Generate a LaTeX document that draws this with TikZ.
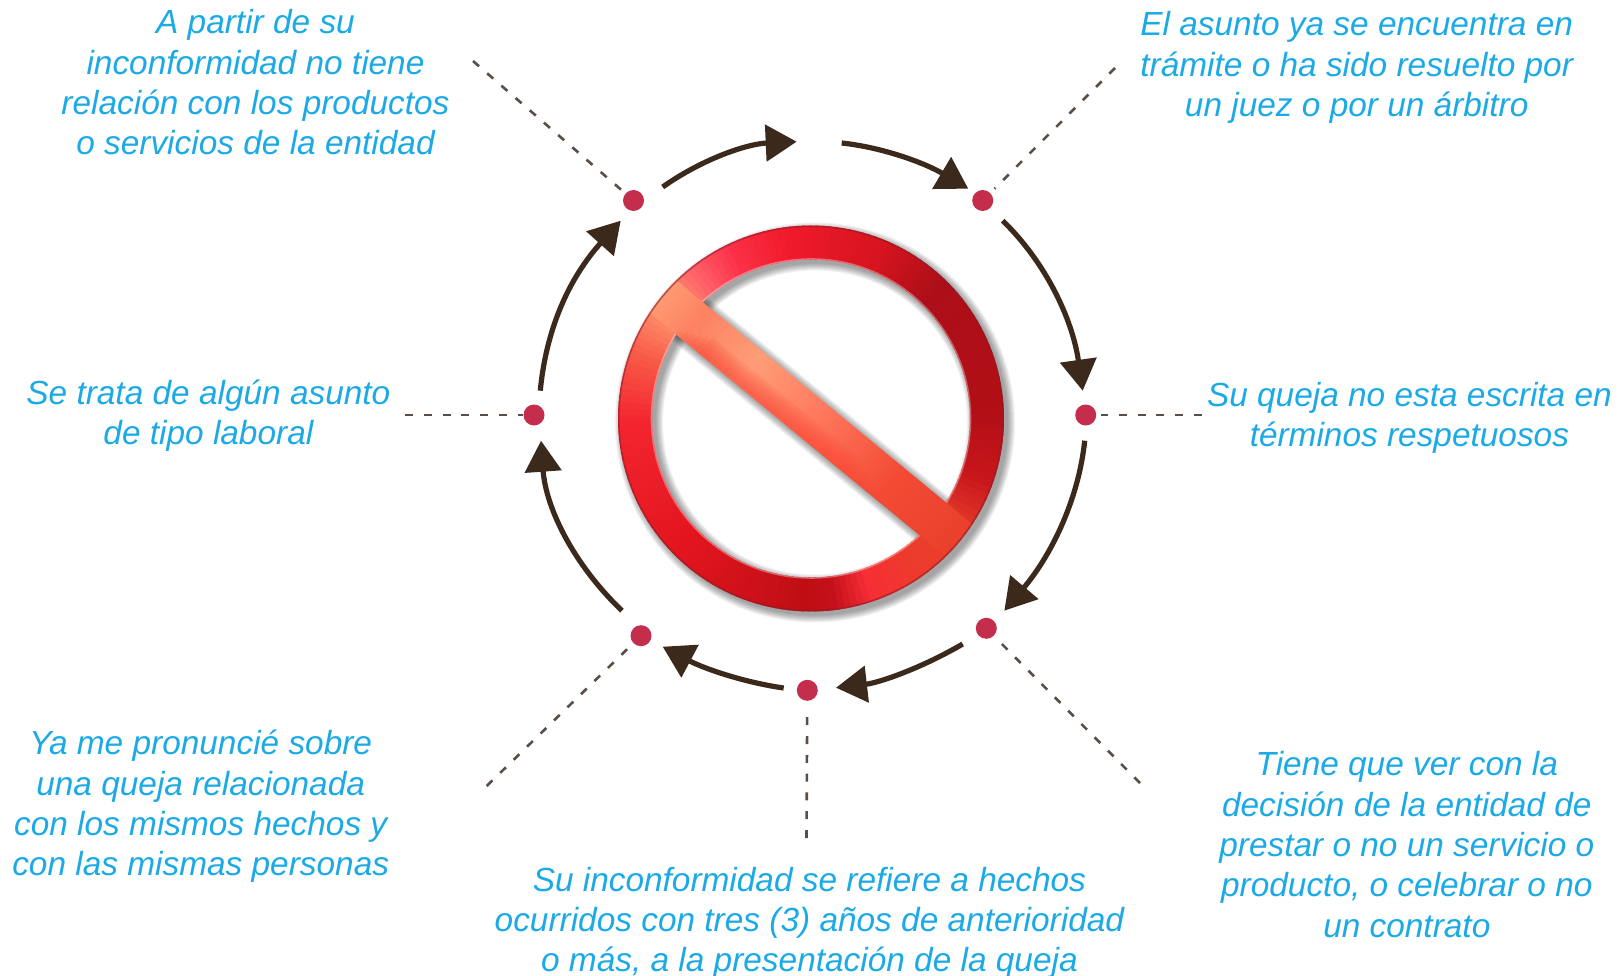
\documentclass[tikz,border=0pt]{standalone}
\usepackage{fontspec}
\setmainfont{Liberation Sans}
\usetikzlibrary{arrows.meta,calc}
\definecolor{txtblue}{HTML}{1CAAE6}
\definecolor{shaft}{HTML}{3B2A1C}
\definecolor{leader}{HTML}{5A4F48}
\definecolor{dotred}{HTML}{C42D4B}
\definecolor{ra}{HTML}{B20F16}
\definecolor{rb}{HTML}{AD0F18}
\definecolor{rc}{HTML}{D5141E}
\definecolor{rd}{HTML}{F01A2A}
\definecolor{re}{HTML}{FB3046}
\definecolor{rf}{HTML}{FF5A66}
\definecolor{rg}{HTML}{FF9A72}
\definecolor{rh}{HTML}{F85A48}
\definecolor{ri}{HTML}{F32630}
\definecolor{rj}{HTML}{E2151F}
\definecolor{rk}{HTML}{BE0E14}
\definecolor{rl}{HTML}{C4101A}
\definecolor{rm}{HTML}{F52E36}
\definecolor{rn}{HTML}{EE3A2C}
\definecolor{ro}{HTML}{E8402C}
\definecolor{rp}{HTML}{C9171B}
\definecolor{ba}{HTML}{FC8262}
\definecolor{bb}{HTML}{FF9D78}
\definecolor{bc}{HTML}{FF7A5E}
\definecolor{bd}{HTML}{F44B35}
\definecolor{bred}{HTML}{FB4636}
\definecolor{rimc}{HTML}{8F1A28}
\newcommand\ringseg[4]{\foreach \t in {#1,\the\numexpr#1+2\relax,...,\the\numexpr#2-1\relax}{%
  \pgfmathsetmacro\pp{100*(\t-#1)/(#2-#1)}%
  \fill[#4!\pp!#3] (\t:159) -- (\t:193) -- (\t+2.6:193) -- (\t+2.6:159) -- cycle;}}
\newcommand\barseg[4]{\foreach \t in {#1,\the\numexpr#1+3\relax,...,\the\numexpr#2-1\relax}{%
  \pgfmathsetmacro\pp{100*(\t-#1)/(#2-#1)}%
  \fill[#4!\pp!#3] (\t,-21) rectangle (\t+3.6,21);}}
\newcommand\arcarrow[3]{\draw[curvearrow] (#1) .. controls ($(#1)!.667!(#2)$) and ($(#3)!.667!(#2)$) .. (#3);}
\tikzset{
  note/.style={font=\itshape\fontsize{33.4}{40.3}\selectfont,text=txtblue,align=center,inner sep=0pt},
  reddot/.style={circle,fill=dotred,minimum size=21pt,inner sep=0pt,draw=none},
  curvearrow/.style={draw=shaft,line width=5.2pt,-{Triangle[length=31pt,width=36pt]}},
  dashline/.style={draw=leader,line width=2.6pt,dash pattern=on 8pt off 10.8pt}
}
\begin{document}
\begin{tikzpicture}[x=1pt,y=-1pt]
\useasboundingbox (0,0) rectangle (1622,976);
\fill[white] (0,0) rectangle (1622,976);

% sign
\begin{scope}[shift={(811,418.5)},x=1pt,y=1pt]
  \begin{scope}[shift={(4,-4)}]
    \foreach \w in {0,2,...,14}{
      \draw[black,opacity=.05,line width=34+\w] (0,0) circle[radius=176];
      \begin{scope}[rotate=-39.5]
        \fill[black,opacity=.05] (-165,-21-\w/2) rectangle (165,21+\w/2);
      \end{scope}
    }
  \end{scope}
  \ringseg{0}{45}{ra}{rb}
  \ringseg{45}{66}{rb}{rc}
  \ringseg{66}{96}{rc}{rd}
  \ringseg{96}{114}{rd}{re}
  \ringseg{114}{126}{re}{rf}
  \ringseg{126}{141}{rf}{rg}
  \ringseg{141}{159}{rg}{rh}
  \ringseg{159}{180}{rh}{ri}
  \ringseg{180}{225}{ri}{rj}
  \ringseg{225}{267}{rj}{rk}
  \ringseg{267}{276}{rk}{rl}
  \ringseg{276}{288}{rl}{rm}
  \ringseg{288}{303}{rm}{rn}
  \ringseg{303}{321}{rn}{ro}
  \ringseg{321}{339}{ro}{rp}
  \ringseg{339}{360}{rp}{ra}
  \draw[white,opacity=.35,line width=1.4pt] (0,0) circle[radius=159.6];
  \begin{scope}
    \clip (0,0) circle[radius=192];
    \begin{scope}[rotate=-39.5]
      \barseg{-192}{-150}{rg}{ba}
      \barseg{-150}{-80}{ba}{bb}
      \barseg{-80}{0}{bb}{bc}
      \barseg{0}{100}{bc}{bd}
      \barseg{100}{192}{bd}{ro}
      \foreach \k in {0,1,...,5}{
        \fill[bred,opacity=.14] (-158+6*\k,-21) rectangle (110-10*\k,-16+\k*3.2);
      }
    \end{scope}
  \end{scope}
  \draw[rimc,opacity=.55,line width=1.6pt] (0,0) circle[radius=192.2];
\end{scope}

% coordinates for the connectors
\coordinate (s1) at (662.7,187);    \coordinate (c1) at (722,145);     \coordinate (e1) at (796.7,141.7);
\coordinate (s2) at (841.7,143);    \coordinate (c2) at (901.8,149.4); \coordinate (e2) at (968.3,188.7);
\coordinate (s3) at (1002.7,220.7); \coordinate (c3) at (1067.3,283.3);\coordinate (e3) at (1082.7,390.7);
\coordinate (s4) at (1084.7,440.7); \coordinate (c4) at (1076,526.2);  \coordinate (e4) at (1004.3,610.7);
\coordinate (s5) at (962.7,644);    \coordinate (c5) at (900.6,680.3); \coordinate (e5) at (836,687.7);
\coordinate (s6) at (783.7,688);    \coordinate (c6) at (725,679.7);   \coordinate (e6) at (662.7,646.7);
\coordinate (s7) at (622,610.7);    \coordinate (c7) at (548,540);     \coordinate (e7) at (541,440.7);
\coordinate (s8) at (540.3,390.7);  \coordinate (c8a) at (545,340);    \coordinate (c8b) at (563,285); \coordinate (e8) at (620.7,220.7);

\coordinate (lTL) at (473,61);
\coordinate (lTR) at (1115,68);
\coordinate (lR)  at (1202,415);
\coordinate (lL)  at (405,415);
\coordinate (lBR) at (1140,783);
\coordinate (lBL) at (486.7,786);
\coordinate (lB)  at (806.5,838);

% dots
\node[reddot] (dTL) at (633.5,200.5) {};
\node[reddot] (dTR) at (982.7,200.5) {};
\node[reddot] (dR)  at (1085.7,415) {};
\node[reddot] (dL)  at (534,415) {};
\node[reddot] (dB)  at (807.3,690.3) {};
\node[reddot] (dBL) at (641,635.7) {};
\node[reddot] (dBR) at (986.3,628.3) {};

% leaders
\draw[dashline] (lTL) -- (dTL);
\draw[dashline,shorten >=6pt] (lTR) -- (dTR);
\draw[dashline,shorten >=5pt] (lR) -- (dR);
\draw[dashline] (lL) -- (dL);
\draw[dashline,shorten >=7pt] (lBR) -- (dBR);
\draw[dashline] (lBL) -- (dBL);
\draw[dashline,shorten >=14pt] (lB) -- (dB);

% arrows
\arcarrow{s1}{c1}{e1}
\arcarrow{s2}{c2}{e2}
\arcarrow{s3}{c3}{e3}
\arcarrow{s4}{c4}{e4}
\arcarrow{s5}{c5}{e5}
\arcarrow{s6}{c6}{e6}
\arcarrow{s7}{c7}{e7}
\draw[curvearrow] (s8) .. controls (c8a) and (c8b) .. (e8);

% texts
\node[note] (tTL) at (255.5,82.5) {A partir de su\\inconformidad no tiene\\relación con los productos\\o servicios de la entidad};
\node[note] (tTR) at (1356.7,67.6) {El asunto ya se encuentra en\\trámite o ha sido resuelto por\\un juez o por un árbitro};
\node[note] (tR) at (1409.4,418) {Su queja no esta escrita en\\términos respetuosos};
\node[note] (tL) at (208.4,415.7) {Se trata de algún asunto\\de tipo laboral};
\node[note] (tBL) at (200.7,806.6) {Ya me pronuncié sobre\\una queja relacionada\\con los mismos hechos y\\con las mismas personas};
\node[note] (tB) at (809.4,923) {Su inconformidad se refiere a hechos\\ocurridos con tres (3) años de anterioridad\\o más, a la presentación de la queja};
\node[note] (tBR) at (1406.8,844.6) {Tiene que ver con la\\decisión de la entidad de\\prestar o no un servicio o\\producto, o celebrar o no\\un contrato};
\end{tikzpicture}
\end{document}
